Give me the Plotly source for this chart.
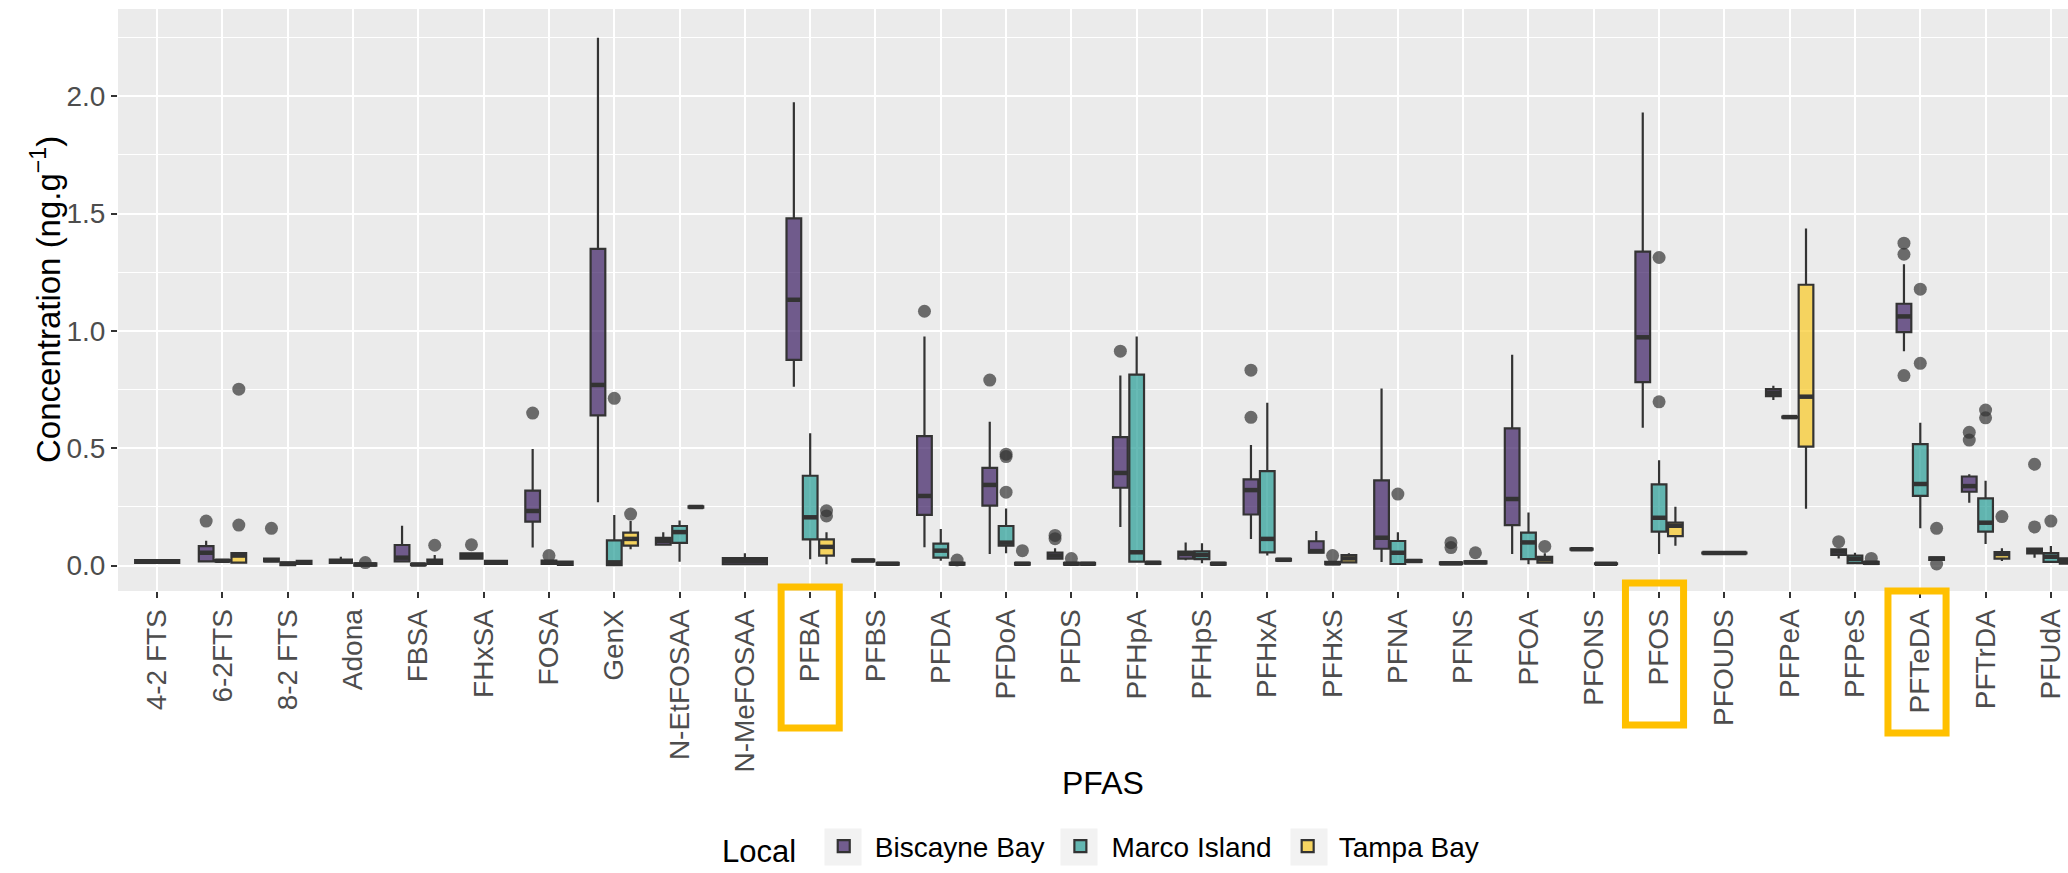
import plotly.graph_objects as go

# ---------------------------------------------------------------- data
categories = ["4-2 FTS", "6-2FTS", "8-2 FTS", "Adona", "FBSA", "FHxSA", "FOSA", "GenX",
              "N-EtFOSAA", "N-MeFOSAA", "PFBA", "PFBS", "PFDA", "PFDoA", "PFDS", "PFHpA",
              "PFHpS", "PFHxA", "PFHxS", "PFNA", "PFNS", "PFOA", "PFONS", "PFOS", "PFOUDS",
              "PFPeA", "PFPeS", "PFTeDA", "PFTrDA", "PFUdA"]

sites = ["Biscayne Bay", "Marco Island", "Tampa Bay"]
N = None

# Biscayne Bay: lower whisker, Q1, median, Q3, upper whisker (ng/g)
bb_lo  = [0.008, 0.014, 0.016, 0.008, 0.017, 0.028, 0.077, 0.270, 0.087, 0.003, 0.762, 0.018, 0.078, 0.050, 0.026,
          0.165, 0.023, 0.114, 0.053, 0.016, 0.004, 0.050, 0.068, 0.588, 0.052, 0.706, 0.030, 0.914, 0.268, 0.034]
bb_q1  = [0.012, 0.018, 0.018, 0.012, 0.018, 0.030, 0.188, 0.640, 0.090, 0.006, 0.877, 0.018, 0.216, 0.256, 0.030,
          0.332, 0.030, 0.218, 0.055, 0.072, 0.006, 0.173, 0.068, 0.782, 0.052, 0.722, 0.046, 0.995, 0.315, 0.052]
bb_med = [0.018, 0.055, 0.023, 0.018, 0.034, 0.041, 0.233, 0.770, 0.106, 0.020, 1.133, 0.022, 0.297, 0.344, 0.043,
          0.395, 0.050, 0.322, 0.062, 0.119, 0.010, 0.284, 0.070, 0.973, 0.054, 0.737, 0.060, 1.062, 0.339, 0.062]
bb_q3  = [0.024, 0.083, 0.030, 0.026, 0.088, 0.052, 0.320, 1.350, 0.118, 0.032, 1.480, 0.026, 0.552, 0.417, 0.056,
          0.548, 0.060, 0.368, 0.104, 0.363, 0.014, 0.585, 0.073, 1.338, 0.056, 0.752, 0.070, 1.116, 0.380, 0.073]
bb_hi  = [0.028, 0.106, 0.032, 0.038, 0.170, 0.055, 0.497, 2.250, 0.142, 0.053, 1.975, 0.026, 0.976, 0.613, 0.074,
          0.810, 0.099, 0.514, 0.148, 0.755, 0.016, 0.899, 0.073, 1.931, 0.056, 0.767, 0.072, 1.284, 0.389, 0.075]
bb_out_cat = ["6-2FTS", "8-2 FTS", "FHxSA", "FOSA", "PFDA", "PFDoA", "PFDS", "PFDS", "PFHpA", "PFHxA", "PFHxA",
              "PFNS", "PFNS", "PFPeS", "PFTeDA", "PFTeDA", "PFTeDA", "PFTrDA", "PFTrDA", "PFUdA", "PFUdA"]
bb_out_val = [0.190, 0.159, 0.089, 0.650, 1.084, 0.791, 0.115, 0.129, 0.914, 0.632, 0.833,
              0.077, 0.098, 0.102, 0.810, 1.327, 1.374, 0.535, 0.568, 0.165, 0.432]

# Marco Island
mi_lo  = [N, 0.018, 0.000, 0.000, 0.002, 0.008, 0.006, 0.000, 0.017, N, 0.027, 0.004, 0.021, 0.053, 0.004,
          0.012, 0.010, 0.043, 0.006, 0.007, 0.010, 0.006, 0.006, 0.050, N, 0.631, 0.011, 0.159, 0.092, 0.016]
mi_q1  = [N, 0.018, 0.002, 0.000, 0.002, 0.008, 0.008, 0.002, 0.097, N, 0.112, 0.004, 0.034, 0.085, 0.004,
          0.017, 0.028, 0.057, 0.006, 0.007, 0.010, 0.028, 0.006, 0.145, N, 0.631, 0.011, 0.297, 0.145, 0.016]
mi_med = [N, 0.021, 0.008, 0.005, 0.005, 0.014, 0.015, 0.014, 0.143, N, 0.206, 0.008, 0.064, 0.098, 0.008,
          0.057, 0.045, 0.114, 0.010, 0.055, 0.014, 0.099, 0.008, 0.204, N, 0.633, 0.028, 0.348, 0.183, 0.038]
mi_q3  = [N, 0.024, 0.014, 0.010, 0.008, 0.020, 0.022, 0.108, 0.169, N, 0.383, 0.012, 0.094, 0.169, 0.012,
          0.814, 0.061, 0.403, 0.016, 0.105, 0.018, 0.141, 0.010, 0.346, N, 0.635, 0.043, 0.518, 0.287, 0.053]
mi_hi  = [N, 0.024, 0.016, 0.012, 0.008, 0.020, 0.024, 0.216, 0.192, N, 0.564, 0.012, 0.156, 0.244, 0.012,
          0.976, 0.095, 0.694, 0.016, 0.142, 0.018, 0.226, 0.010, 0.449, N, 0.635, 0.055, 0.609, 0.362, 0.084]
mi_out_cat = ["Adona", "FOSA", "GenX", "PFDoA", "PFDoA", "PFDoA", "PFDS", "PFHxS", "PFNA", "PFNS",
              "PFOS", "PFOS", "PFTeDA", "PFTeDA", "PFTrDA", "PFTrDA", "PFUdA"]
mi_out_val = [0.013, 0.043, 0.713, 0.313, 0.465, 0.475, 0.030, 0.043, 0.305, 0.055,
              0.698, 1.313, 0.862, 1.178, 0.630, 0.663, 0.190]

# Tampa Bay
tb_lo  = [N, 0.013, 0.008, N, 0.006, N, 0.003, 0.070, 0.247, N, 0.006, N, 0.004, 0.004, 0.004,
          0.008, 0.004, 0.021, 0.012, 0.016, N, 0.012, N, 0.085, N, 0.243, 0.008, 0.025, 0.020, 0.007]
tb_q1  = [N, 0.013, 0.008, N, 0.008, N, 0.003, 0.085, 0.247, N, 0.043, N, 0.004, 0.004, 0.004,
          0.008, 0.004, 0.021, 0.014, 0.016, N, 0.013, N, 0.126, N, 0.507, 0.008, 0.025, 0.030, 0.009]
tb_med = [N, 0.043, 0.014, N, 0.016, N, 0.010, 0.114, 0.250, N, 0.080, N, 0.008, 0.008, 0.008,
          0.012, 0.008, 0.025, 0.031, 0.020, N, 0.027, N, 0.170, N, 0.720, 0.012, 0.030, 0.050, 0.020]
tb_q3  = [N, 0.053, 0.020, N, 0.026, N, 0.017, 0.141, 0.253, N, 0.112, N, 0.012, 0.012, 0.012,
          0.016, 0.012, 0.029, 0.045, 0.024, N, 0.038, N, 0.183, N, 1.197, 0.016, 0.035, 0.058, 0.031]
tb_hi  = [N, 0.053, 0.020, N, 0.045, N, 0.017, 0.190, 0.253, N, 0.142, N, 0.012, 0.012, 0.012,
          0.016, 0.012, 0.029, 0.053, 0.024, N, 0.053, N, 0.251, N, 1.437, 0.016, 0.035, 0.074, 0.031]
tb_out_cat = ["6-2FTS", "6-2FTS", "FBSA", "GenX", "PFBA", "PFBA", "PFDA", "PFDoA", "PFOA", "PFPeS",
              "PFTeDA", "PFTeDA", "PFTrDA"]
tb_out_val = [0.173, 0.752, 0.087, 0.220, 0.212, 0.234, 0.024, 0.064, 0.082, 0.031,
              0.007, 0.159, 0.209]

y_ticks = [0, 0.5, 1.0, 1.5, 2.0]
y_tick_labels = ["0.0", "0.5", "1.0", "1.5", "2.0"]
highlighted = ["PFBA", "PFOS", "PFTeDA"]

# ---------------------------------------------------------------- styling
fills = ["rgba(60,30,100,0.7)", "rgba(39,156,149,0.7)", "rgba(249,201,36,0.7)"]
edge = "#333333"
FONT = "Liberation Sans, Arial, Helvetica, sans-serif"

stats = {
    "Biscayne Bay": (bb_lo, bb_q1, bb_med, bb_q3, bb_hi, bb_out_cat, bb_out_val),
    "Marco Island": (mi_lo, mi_q1, mi_med, mi_q3, mi_hi, mi_out_cat, mi_out_val),
    "Tampa Bay": (tb_lo, tb_q1, tb_med, tb_q3, tb_hi, tb_out_cat, tb_out_val),
}

# dodge: boxes share 0.75 of each category slot between the sites present there
DODGE = 0.75
PAD = 0.9
centers, widths = {}, {}
for i, cat in enumerate(categories):
    present = [s for s in sites if stats[s][2][i] is not None]
    slot = DODGE / len(present)
    for k, s in enumerate(present):
        centers[(s, i)] = i - DODGE / 2 + (k + 0.5) * slot
        widths[(s, i)] = slot * PAD

fig = go.Figure()
for si, s in enumerate(sites):
    lo, q1, med, q3, hi, out_cat, out_val = stats[s]
    first = True
    mx, my = [], []
    for i in range(len(categories)):
        if med[i] is None:
            continue
        xc, w = centers[(s, i)], widths[(s, i)]
        fig.add_trace(go.Box(
            x=[xc], q1=[q1[i]], median=[med[i]], q3=[q3[i]],
            lowerfence=[lo[i]], upperfence=[hi[i]],
            width=w, orientation="v", boxpoints=False, whiskerwidth=0,
            fillcolor=fills[si], line=dict(color=edge, width=2.2),
            name=s, legendgroup=s, showlegend=first, hoverinfo="skip",
        ))
        first = False
        mx += [xc - w / 2, xc + w / 2, None]
        my += [med[i], med[i], None]
    # thicker median bar
    fig.add_trace(go.Scatter(x=mx, y=my, mode="lines", line=dict(color=edge, width=4.5),
                             showlegend=False, hoverinfo="skip", legendgroup=s))
    # outliers
    ox = [centers[(s, categories.index(c))] for c in out_cat]
    fig.add_trace(go.Scatter(x=ox, y=out_val, mode="markers",
                             marker=dict(size=13, color="rgba(51,51,51,0.7)", line=dict(width=0)),
                             showlegend=False, hoverinfo="skip", legendgroup=s))

# ---------------------------------------------------------------- layout
W, H = 2068, 873
L, T, B = 118, 9, 282
plot_w, plot_h = W - L, H - T - B
px_per_cat = 65.3
x_lo = -0.6
x_hi = x_lo + plot_w / px_per_cat

def py(ypix):
    """pixel row (from top) -> paper y"""
    return (H - B - ypix) / plot_h

def px(xpix):
    return (xpix - L) / plot_w

shapes = []
# highlight frames around selected compound labels
for name, dx, top, bot in zip(highlighted, [0.0, -0.07, -0.05], [587, 583, 591], [728, 725, 733]):
    i = categories.index(name)
    shapes.append(dict(type="rect", xref="x", yref="paper",
                       x0=i + dx - 0.445, x1=i + dx + 0.445, y0=py(top), y1=py(bot),
                       line=dict(color="#FFC000", width=7), fillcolor="rgba(0,0,0,0)", layer="above"))
# light grey legend key backgrounds
KEY = 37
KEY_Y = 847
for kx in [843, 1079, 1309]:
    shapes.append(dict(type="rect", xref="paper", yref="paper",
                       x0=px(kx - KEY / 2), x1=px(kx + KEY / 2),
                       y0=py(KEY_Y - KEY / 2), y1=py(KEY_Y + KEY / 2),
                       line=dict(width=0), fillcolor="#F2F2F2", layer="below"))

fig.update_layout(
    width=W, height=H,
    margin=dict(l=L, r=0, t=T, b=B, pad=0, autoexpand=False),
    paper_bgcolor="white", plot_bgcolor="#EBEBEB",
    font=dict(family=FONT, color="#000000"),
    boxmode="overlay",
    showlegend=True,
    legend=dict(orientation="h", x=px(720), xanchor="left", y=py(KEY_Y), yanchor="middle",
                title=dict(text="Local ", font=dict(size=31, color="#000000"), side="left"),
                font=dict(size=28, color="#000000"), itemwidth=52, bgcolor="rgba(0,0,0,0)"),
    shapes=shapes,
    annotations=[
        dict(text="Concentration (ng.g<sup>−1</sup>)", xref="paper", yref="paper",
             x=px(46), y=0.5, textangle=-90, showarrow=False, xanchor="center", yanchor="middle",
             font=dict(size=33, color="#000000")),
        dict(text="PFAS", xref="paper", yref="paper", x=px(1103), y=py(783),
             showarrow=False, xanchor="center", yanchor="middle", font=dict(size=32, color="#000000")),
    ],
)

fig.update_xaxes(
    range=[x_lo, x_hi], tickmode="array", tickvals=list(range(len(categories))), ticktext=categories,
    tickangle=-90, ticks="outside", ticklen=6, tickwidth=2, tickcolor=edge,
    tickfont=dict(size=28, color="#4D4D4D", family=FONT),
    showgrid=True, gridcolor="white", gridwidth=2, zeroline=False, showline=False, automargin=False,
)
fig.update_yaxes(
    range=[-0.108, 2.372], tickmode="array", tickvals=y_ticks, ticktext=y_tick_labels,
    ticks="outside", ticklen=6, tickwidth=2, tickcolor=edge,
    tickfont=dict(size=28, color="#4D4D4D", family=FONT),
    showgrid=True, gridcolor="white", gridwidth=2, zeroline=False, showline=False, automargin=False,
    minor=dict(tickvals=[0.25, 0.75, 1.25, 1.75, 2.25], showgrid=True, gridcolor="white",
               gridwidth=1, ticklen=0),
)

fig.write_html("out.html")
